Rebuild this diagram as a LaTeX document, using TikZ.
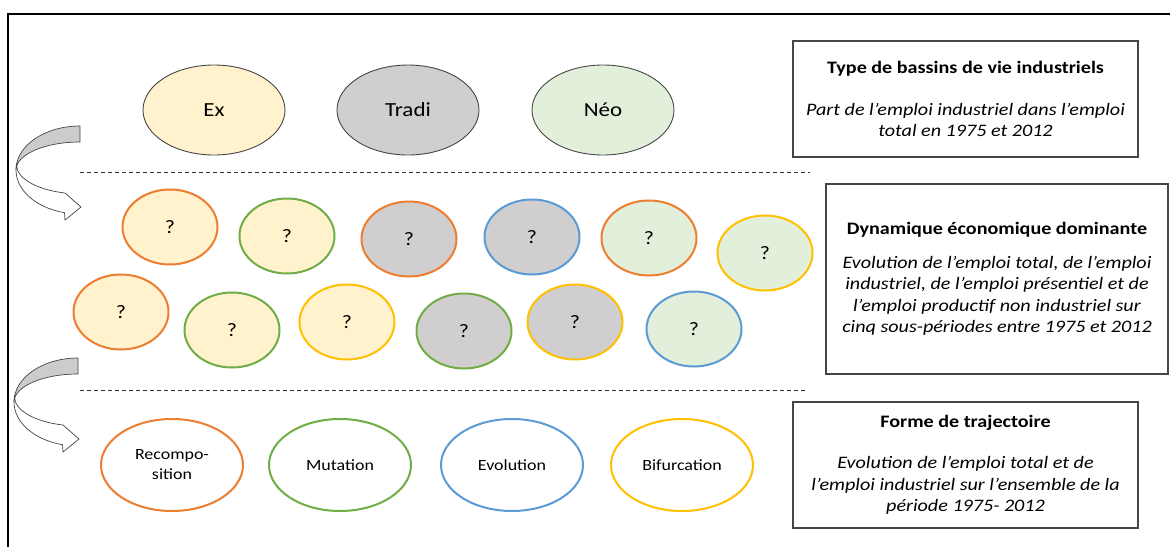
\documentclass[tikz,border=0pt]{standalone}
\usepackage{fontspec}
\setmainfont{Carlito}[FakeStretch=1.15]
\usepackage{tikz}
\usetikzlibrary{shapes.geometric}
\definecolor{exfill}{HTML}{FFF2CC}
\definecolor{tradifill}{HTML}{D0CECE}
\definecolor{neofill}{HTML}{E2EFDA}
\definecolor{recorange}{HTML}{ED7D31}
\definecolor{mutgreen}{HTML}{70AD47}
\definecolor{evoblue}{HTML}{5B9BD5}
\definecolor{bifyellow}{HTML}{FFC000}
\definecolor{framegray}{RGB}{70, 70, 70}

\begin{document}
\begin{tikzpicture}[x=1pt, y=-1pt]
\tikzset{
  typeell/.style={ellipse, draw=framegray, line width=0.9pt, minimum width=142pt, minimum height=90pt,
    font=\fontsize{20}{24}\selectfont},
  qell/.style={ellipse, line width=2pt, minimum width=95pt, minimum height=75pt,
    font=\fontsize{19}{23}\selectfont},
  trajell/.style={ellipse, line width=2pt, fill=white, minimum width=142pt, minimum height=92pt,
    align=center, font=\fontsize{15.6}{20}\selectfont},
  infobox/.style={rectangle, draw=framegray, line width=1.3pt, align=center,
    font=\fontsize{17.5}{21.5}\selectfont},
  sep/.style={line width=1pt, dash pattern=on 4pt off 3pt, draw=black!80},
  bendarrow/.pic={
    \draw[framegray, line width=0.7pt, fill=black!20]
      (0,-44) arc[start angle=270, end angle=180, x radius=64, y radius=44]
      arc[start angle=180, end angle=270, x radius=64, y radius=28] -- cycle;
    \draw[framegray, line width=0.7pt, fill=white]
      (-64,0) arc[start angle=180, end angle=104, x radius=64, y radius=44]
      -- (-15,50) -- (1,37) -- (-15,23)
      arc[start angle=104, end angle=180, x radius=64, y radius=29] -- cycle;
  }
}
\useasboundingbox (0,0) rectangle (1170,547);
\draw[line width=2pt] (8,547) -- (8,14) -- (1170,14);

\node[typeell, fill=exfill]    (ex)    at (214,110) {Ex};
\node[typeell, fill=tradifill] (tradi) at (408,110) {Tradi};
\node[typeell, fill=neofill]   (neo)   at (603,110) {Néo};

\node[qell, draw=recorange,  fill=exfill]    (q1)  at (170,227) {?};
\node[qell, draw=mutgreen,   fill=exfill]    (q2)  at (287,236) {?};
\node[qell, draw=recorange,  fill=tradifill] (q3)  at (409,239) {?};
\node[qell, draw=evoblue,    fill=tradifill] (q4)  at (532,237) {?};
\node[qell, draw=recorange,  fill=neofill]   (q5)  at (649,238) {?};
\node[qell, draw=bifyellow,  fill=neofill]   (q6)  at (765,253) {?};
\node[qell, draw=recorange,  fill=exfill]    (q7)  at (121,312) {?};
\node[qell, draw=mutgreen,   fill=exfill]    (q8)  at (232,330) {?};
\node[qell, draw=bifyellow,  fill=exfill]    (q9)  at (347,322) {?};
\node[qell, draw=mutgreen,   fill=tradifill] (q10) at (464,331) {?};
\node[qell, draw=bifyellow,  fill=tradifill] (q11) at (575,322) {?};
\node[qell, draw=evoblue,    fill=neofill]   (q12) at (694,329) {?};

\node[trajell, draw=recorange] (recomp) at (172,465) {Recompo-\\sition};
\node[trajell, draw=mutgreen]  (mutat)  at (340,465) {Mutation};
\node[trajell, draw=evoblue]   (evol)   at (512,465) {Evolution};
\node[trajell, draw=bifyellow] (bifur)  at (682,465) {Bifurcation};

\coordinate (sepA-w) at (80,172);
\coordinate (sepA-e) at (810,172);
\coordinate (sepB-w) at (80,390);
\coordinate (sepB-e) at (808,390);
\draw[sep] (sepA-w) -- (sepA-e);
\draw[sep] (sepB-w) -- (sepB-e);

\pic at (80,170) {bendarrow};
\pic at (78,402) {bendarrow};

\node[infobox, minimum width=345pt, minimum height=116pt] (typebox) at (965.5,99)
  {\textbf{Type de bassins de vie industriels}\\[20pt]
   \textit{Part de l’emploi industriel dans l’emploi}\\
   \textit{total en 1975 et 2012}};
\node[infobox, minimum width=342pt, minimum height=190pt] (dynbox) at (997,279)
  {\textbf{Dynamique économique dominante}\\[12pt]
   \textit{Evolution de l’emploi total, de l’emploi}\\
   \textit{industriel, de l’emploi présentiel et de}\\
   \textit{l’emploi productif non industriel sur}\\
   \textit{cinq sous-périodes entre 1975 et 2012}};
\node[infobox, minimum width=345pt, minimum height=126pt] (trajbox) at (965.5,465)
  {\textbf{Forme de trajectoire}\\[20pt]
   \textit{Evolution de l’emploi total et de}\\
   \textit{l’emploi industriel sur l’ensemble de la}\\
   \textit{période 1975- 2012}};
\end{tikzpicture}
\end{document}
